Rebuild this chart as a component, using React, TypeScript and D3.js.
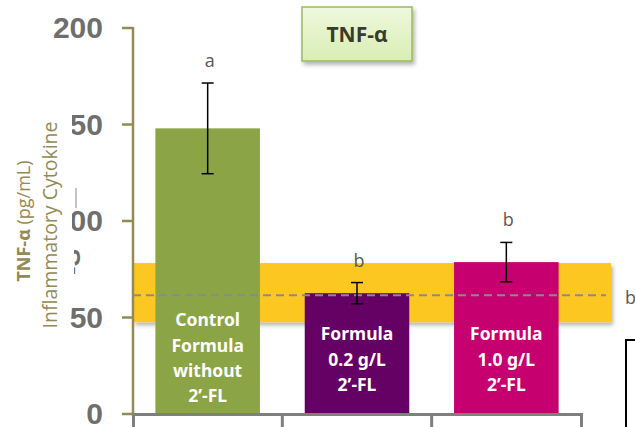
import React from "react";
import * as d3 from "d3";

const categories = ["Control Formula without 2\u2019-FL", "Formula 0.2 g/L 2\u2019-FL", "Formula 1.0 g/L 2\u2019-FL"];
const labelLines = [
  ["Control", "Formula", "without", "2\u2019-FL"],
  ["Formula", "0.2 g/L", "2\u2019-FL"],
  ["Formula", "1.0 g/L", "2\u2019-FL"],
];
const values = [148, 62.6, 78.7];
const errors = [23.5, 5.5, 10.2];
const letters = ["a", "b", "b"];
const barColors = ["#8BA446", "#650065", "#C7006F"];
const yTicks = [0, 50, 100, 150, 200];
const refLow = 47.6;
const refHigh = 78.2;
const refMean = 61.5;

const W = 635;
const H = 427;

export default function App() {
  const y = d3.scaleLinear().domain([0, 200]).range([414, 28]);
  const x = d3.scaleBand<string>().domain(categories).range([133, 581]).padding(0);
  const bw = x.bandwidth() * 0.7;

  return (
    <svg width={W} height={H} style={{ position: "absolute", left: 0, top: 0, background: "#fff" }}>
      <defs>
        <filter id="sh" x="-10%" y="-20%" width="130%" height="160%">
          <feDropShadow dx="2" dy="3" stdDeviation="2" floodColor="#000" floodOpacity="0.3" />
        </filter>
        <linearGradient id="tg" x1="0" y1="0" x2="0" y2="1">
          <stop offset="0" stopColor="#EEF8DC" />
          <stop offset="1" stopColor="#D9EEB4" />
        </linearGradient>
        <clipPath id="frag">
          <rect x={74} y={185} width={7} height={100} />
        </clipPath>
      </defs>
      <rect x={0} y={0} width={W} height={H} fill="#fff" />

      {/* tick labels */}
      {yTicks.map((t) => (
        <text key={t} x={103} y={y(t)} dy="0.34em" textAnchor="end"
          fontFamily="Liberation Sans, Arial, sans-serif" fontWeight="bold" fontSize={30} fill="#6E6E6E">
          {t}
        </text>
      ))}

      {/* covering white panel with axis title */}
      <rect x={0} y={50} width={72} height={250} fill="#fff" />
      <g clipPath="url(#frag)">
        <line x1={76} x2={76} y1={188} y2={208} stroke="#B0B0B0" strokeWidth={1.5} />
        <text transform="translate(80,262) rotate(-90)" textAnchor="middle"
          fontFamily="Liberation Sans, Arial, sans-serif" fontWeight="bold" fontSize={26} fill="#6E6E6E">
          -S
        </text>
      </g>
      <text transform="translate(30,221) rotate(-90)" textAnchor="middle"
        fontFamily="Open Sans, Noto Sans, sans-serif" fontSize={18} fill="#948A54">
        <tspan fontWeight="bold">TNF-α</tspan> (pg/mL)
      </text>
      <text transform="translate(57,225) rotate(-90)" textAnchor="middle"
        fontFamily="Open Sans, Noto Sans, sans-serif" fontSize={19.5} fill="#948A54">
        Inflammatory Cytokine
      </text>

      {/* reference band */}
      <rect x={133} y={y(refHigh)} width={611 - 133} height={y(refLow) - y(refHigh)} fill="#FDC723" filter="url(#sh)" />

      {/* bars */}
      {categories.map((c, i) => (
        <rect key={c} x={x(c)! + (x.bandwidth() - bw) / 2} y={y(values[i])} width={bw}
          height={y(0) - y(values[i])} fill={barColors[i]} />
      ))}

      {/* dashed mean line */}
      <line x1={133} x2={606} y1={y(refMean)} y2={y(refMean)} stroke="#8A8A8A" strokeWidth={2} strokeDasharray="8,5" />

      {/* error bars */}
      {categories.map((c, i) => {
        const cx = x(c)! + x.bandwidth() / 2;
        const t = y(values[i] + errors[i]);
        const b = y(values[i] - errors[i]);
        return (
          <g key={c} stroke="#000" strokeWidth={1.5}>
            <line x1={cx} x2={cx} y1={t} y2={b} />
            <line x1={cx - 6} x2={cx + 6} y1={t} y2={t} />
            <line x1={cx - 6} x2={cx + 6} y1={b} y2={b} />
          </g>
        );
      })}

      {/* significance letters */}
      {categories.map((c, i) => (
        <text key={c} x={x(c)! + x.bandwidth() / 2 + 2} y={y(values[i] + errors[i]) - 16}
          textAnchor="middle" fontFamily="Open Sans, Noto Sans, sans-serif" fontSize={18} fill="#595959">
          {letters[i]}
        </text>
      ))}
      <text x={625} y={304} fontFamily="Open Sans, Noto Sans, sans-serif" fontSize={18} fill="#595959">b</text>

      {/* bar labels */}
      {categories.map((c, i) => {
        const cx = x(c)! + x.bandwidth() / 2;
        const startY = labelLines[i].length === 4 ? 320 : 334;
        return (
          <text key={c} textAnchor="middle" fontFamily="Noto Sans, Open Sans, sans-serif"
            fontWeight="bold" fontSize={17.5} fill="#fff">
            {labelLines[i].map((l, j) => (
              <tspan key={j} x={cx} y={startY + j * 25.3} dy="0.36em">{l}</tspan>
            ))}
          </text>
        );
      })}

      {/* y axis */}
      <line x1={133} x2={133} y1={27} y2={416} stroke="#948A54" strokeWidth={2.5} />
      {yTicks.map((t) => (
        <line key={t} x1={122} x2={133} y1={y(t)} y2={y(t)} stroke="#948A54" strokeWidth={2.5} />
      ))}

      {/* x axis */}
      <line x1={133} x2={583} y1={414.5} y2={414.5} stroke="#7F7F7F" strokeWidth={3} />
      {[133, ...categories.map((c) => x(c)! + x.bandwidth())].map((px, i) => (
        <line key={i} x1={i === 3 || i === 0 ? px + 0.5 : px} x2={i === 3 || i === 0 ? px + 0.5 : px}
          y1={414} y2={427} stroke="#7F7F7F" strokeWidth={3} />
      ))}

      {/* title box */}
      <rect x={302} y={7} width={110} height={54} fill="url(#tg)" stroke="#9BBB59" strokeWidth={1.5} filter="url(#sh)" />
      <text x={357} y={34} dy="0.36em" textAnchor="middle" fontFamily="Open Sans, Noto Sans, sans-serif"
        fontWeight="bold" fontSize={21} fill="#3B3B2C">
        TNF-α
      </text>

      {/* partial rectangle at bottom right */}
      <path d="M626,440 V340 H650" fill="none" stroke="#000" strokeWidth={2} />
    </svg>
  );
}
